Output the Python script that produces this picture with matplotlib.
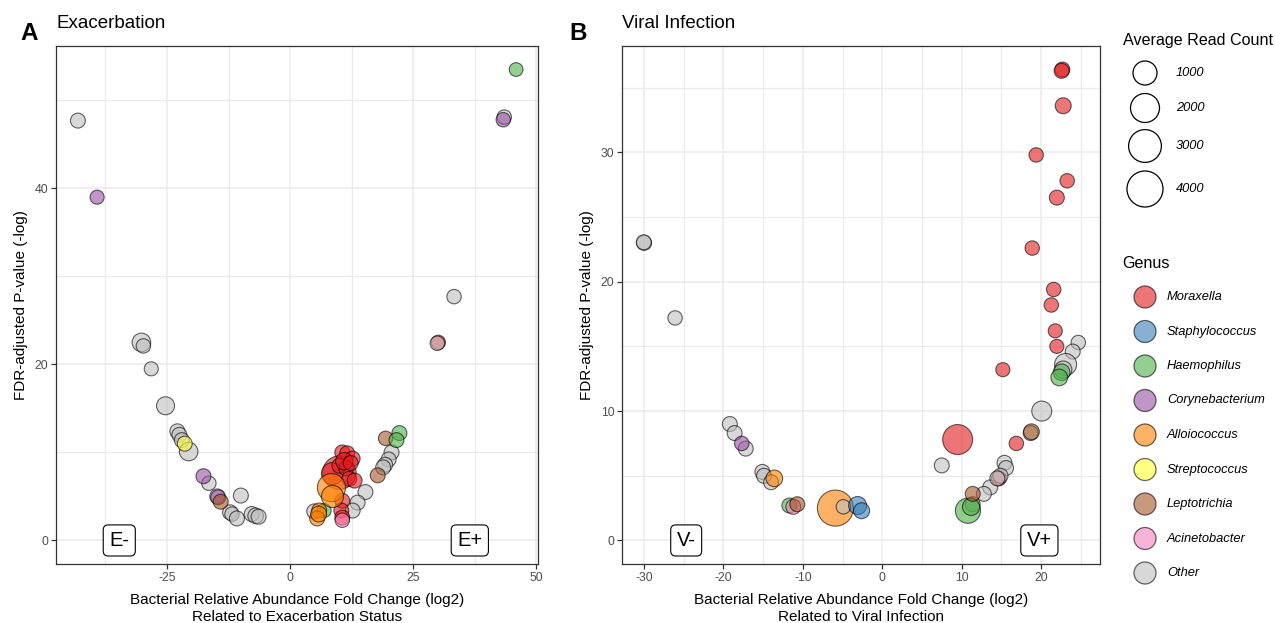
import matplotlib
matplotlib.use("Agg")
import numpy as np
from matplotlib import pyplot as plt
from matplotlib.ticker import MultipleLocator

plt.rcParams['font.family'] = ['Liberation Sans', 'DejaVu Sans']
plt.rcParams['axes.unicode_minus'] = False

genus_order = ['Moraxella', 'Staphylococcus', 'Haemophilus', 'Corynebacterium',
               'Alloiococcus', 'Streptococcus', 'Leptotrichia', 'Acinetobacter', 'Other']
genus_colors = ['#E41A1C', '#377EB8', '#4DAF4A', '#984EA3', '#FF7F00',
                '#FFFF33', '#A65628', '#F781BF', '#BEBEBE']
size_breaks = [1000, 2000, 3000, 4000]

# panel A: exacerbation
exa_fc = [-43.1, -30.2, -29.8, -28.2, -25.3, -22.9, -22.5, -22.0, -20.6, -16.5,
          -14.8, -10.0, -12.2, -11.8, -10.8, -7.8, -7.0, -6.4, 43.5, 33.3,
          20.6, 20.0, 19.3, 18.9, 15.3, 13.7, 12.7, 4.9,
          -39.2, -17.6, -14.6, 43.3,
          -21.4,
          -14.1, 19.4, 17.8,
          45.9, 22.2, 21.6, 6.9,
          30.1, 10.0, 8.6, 10.6, 11.6, 12.7, 10.0, 11.4, 12.0, 13.1, 11.0, 12.3,
          10.6, 10.4, 10.6,
          8.4, 8.6, 5.9, 5.5, 5.8,
          10.6,
          29.9]
exa_p = [47.7, 22.5, 22.1, 19.5, 15.3, 12.4, 12.0, 11.4, 10.1, 6.5,
         5.0, 5.1, 3.2, 3.0, 2.5, 3.0, 2.8, 2.7, 48.1, 27.7,
         10.0, 9.2, 8.6, 8.3, 5.5, 4.3, 3.4, 3.3,
         39.0, 7.3, 4.9, 47.8,
         11.0,
         4.4, 11.6, 7.4,
         53.5, 12.2, 11.4, 3.4,
         22.5, 7.7, 7.6, 10.0, 9.9, 9.3, 8.5, 8.2, 7.0, 6.8, 9.0, 8.8,
         4.5, 3.4, 2.6,
         6.0, 5.0, 3.4, 2.5, 3.0,
         2.3,
         22.4]
exa_reads = [60, 300, 40, 30, 250, 60, 60, 60, 300, 40,
             60, 60, 60, 40, 60, 60, 90, 60, 40, 40,
             60, 60, 60, 60, 60, 60, 60, 60,
             30, 60, 60, 40,
             60,
             60, 40, 60,
             20, 60, 60, 30,
             40, 3200, 700, 60, 60, 60, 60, 60, 60, 60, 200, 60,
             60, 60, 60,
             1800, 700, 60, 60, 100,
             40,
             40]
exa_genus = (['Other'] * 28 + ['Corynebacterium'] * 4 + ['Streptococcus']
             + ['Leptotrichia'] * 3 + ['Haemophilus'] * 4 + ['Moraxella'] * 15
             + ['Alloiococcus'] * 5 + ['Acinetobacter'] + ['Other'])

# panel B: viral infection
vir_fc = [-30.0, -30.05, -26.1, -19.2, -18.6, -17.2, -15.1, -14.9, -14.0,
          24.7, 24.0, 23.1, 22.8, 20.1, 18.7, 7.5, 15.4, 15.6, 13.6, 12.8, 11.4,
          -17.7,
          -13.6, -5.9,
          -4.9,
          -11.7, 22.6, 22.3, 10.8, 11.2,
          -11.2,
          -10.7, 18.8, 11.4,
          -3.1, -2.6,
          22.7, 22.6, 22.8, 19.4, 23.3, 22.0, 18.9, 21.6, 21.3, 21.8, 22.0, 15.2,
          16.9, 9.5, 14.7,
          14.9, 14.5]
vir_p = [23.0, 23.05, 17.2, 9.0, 8.3, 7.1, 5.3, 5.0, 4.5,
         15.3, 14.6, 13.6, 13.2, 10.0, 8.3, 5.8, 6.0, 5.6, 4.1, 3.6, 2.8,
         7.5,
         4.8, 2.5,
         2.6,
         2.7, 13.0, 12.6, 2.3, 2.6,
         2.6,
         2.8, 8.4, 3.6,
         2.7, 2.3,
         36.4, 36.3, 33.6, 29.8, 27.8, 26.5, 22.6, 19.4, 18.2, 16.2, 15.0, 13.2,
         7.5, 7.8, 4.8,
         5.0, 4.8]
vir_reads = [60, 60, 40, 60, 60, 60, 60, 60, 60,
             40, 60, 700, 200, 443, 60, 60, 60, 60, 60, 60, 60,
             40,
             150, 4000,
             40,
             60, 150, 150, 1200, 200,
             60,
             60, 100, 60,
             250, 110,
             60, 60, 110, 40, 40, 60, 40, 40, 40, 30, 30, 30,
             40, 2240, 60,
             60, 60]
vir_genus = (['Other'] * 21 + ['Corynebacterium'] + ['Alloiococcus'] * 2 + ['Other']
             + ['Haemophilus'] * 5 + ['Acinetobacter'] + ['Leptotrichia'] * 3
             + ['Staphylococcus'] * 2 + ['Moraxella'] * 15 + ['Other'] * 2)

DPI = 100


def reads_to_s(reads):
    # point diameter in px grows with sqrt of read count, returned as area in pt^2
    d_px = 12 + 0.38 * np.sqrt(np.asarray(reads, dtype=float))
    return (d_px * 72 / DPI) ** 2


def limits(vals):
    lo, hi = min(min(vals), 0), max(vals)
    pad = (hi - lo) * 0.05
    return lo - pad, hi + pad


def panel(ax, fc, p, reads, genus, xmaj, ymaj, tags, title, xlab):
    cmap = dict(zip(genus_order, genus_colors))
    ax.scatter(fc, p, s=reads_to_s(reads), c=[cmap[g] for g in genus],
               edgecolors='black', linewidths=0.8, alpha=0.6, zorder=3)
    ax.set_xlim(*limits(fc))
    ax.set_ylim(*limits(p))
    ax.xaxis.set_major_locator(MultipleLocator(xmaj))
    ax.xaxis.set_minor_locator(MultipleLocator(xmaj / 2))
    ax.yaxis.set_major_locator(MultipleLocator(ymaj))
    ax.yaxis.set_minor_locator(MultipleLocator(ymaj / 2))
    ax.grid(which='major', color='#EBEBEB', lw=1.1, zorder=0)
    ax.grid(which='minor', color='#EBEBEB', lw=0.9, zorder=0)
    ax.set_axisbelow(True)
    ax.tick_params(which='major', length=3.5, width=0.9, color='#333333',
                   labelsize=8.8, labelcolor='#4D4D4D', pad=2)
    ax.tick_params(which='minor', length=0)
    for sp in ax.spines.values():
        sp.set_color('#333333')
        sp.set_linewidth(0.9)
    for xt, txt in tags:
        ax.text(xt, 0, txt, ha='center', va='center', fontsize=14.5, zorder=5,
                bbox=dict(boxstyle='round,pad=0.3,rounding_size=0.25',
                          fc='white', ec='black', lw=0.8))
    ax.set_xlabel(xlab, fontsize=11, labelpad=7, linespacing=1.2)
    ax.set_ylabel('FDR-adjusted P-value (-log)', fontsize=11, labelpad=5)
    ax.set_title(title, loc='left', fontsize=13.5, pad=13)


fig = plt.figure(figsize=(12.75, 6.23), dpi=DPI)
ax_a = fig.add_axes([56 / 1275, 59 / 623, 482 / 1275, 518 / 623])
ax_b = fig.add_axes([622 / 1275, 59 / 623, 478 / 1275, 518 / 623])

panel(ax_a, exa_fc, exa_p, exa_reads, exa_genus, 25, 20,
      [(-34.7, 'E-'), (36.5, 'E+')], 'Exacerbation',
      'Bacterial Relative Abundance Fold Change (log2)\nRelated to Exacerbation Status')
panel(ax_b, vir_fc, vir_p, vir_reads, vir_genus, 10, 10,
      [(-24.7, 'V-'), (19.8, 'V+')], 'Viral Infection',
      'Bacterial Relative Abundance Fold Change (log2)\nRelated to Viral Infection')

# legends and panel letters drawn in a pixel-coordinate overlay
leg = fig.add_axes([0, 0, 1, 1], zorder=-1)
leg.set_xlim(0, 1275)
leg.set_ylim(623, 0)
leg.axis('off')

leg.text(20, 33, 'A', fontsize=17.5, fontweight='bold', va='center', ha='left')
leg.text(569, 33, 'B', fontsize=17.5, fontweight='bold', va='center', ha='left')

leg.text(1123, 40, 'Average Read Count', fontsize=11.6, va='center', ha='left')
size_y = [73, 108, 146, 189]
leg.scatter([1145] * len(size_breaks), size_y, s=reads_to_s(size_breaks),
            facecolors='none', edgecolors='black', linewidths=0.9)
for yy, b in zip(size_y, size_breaks):
    leg.text(1176, yy, str(b), fontsize=9.3, style='italic', va='center')

leg.text(1122, 264, 'Genus', fontsize=11.6, va='center', ha='left')
genus_y = [297 + 34.5 * i for i in range(len(genus_order))]
leg.scatter([1145] * len(genus_order), genus_y, s=(22 * 72 / DPI) ** 2,
            c=genus_colors, edgecolors='black', linewidths=0.9, alpha=0.6)
for yy, g in zip(genus_y, genus_order):
    leg.text(1167, yy, g, fontsize=9.3, style='italic', va='center')

fig.savefig('out.png', dpi=DPI)
